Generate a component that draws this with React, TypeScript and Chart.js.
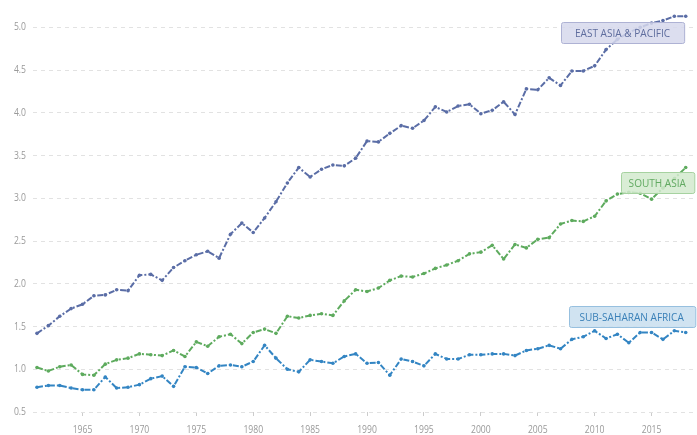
import React, { useEffect, useRef } from "react";
import { Chart, registerables } from "chart.js";

Chart.register(...registerables);

const years = [
  1961, 1962, 1963, 1964, 1965, 1966, 1967, 1968, 1969, 1970,
  1971, 1972, 1973, 1974, 1975, 1976, 1977, 1978, 1979, 1980,
  1981, 1982, 1983, 1984, 1985, 1986, 1987, 1988, 1989, 1990,
  1991, 1992, 1993, 1994, 1995, 1996, 1997, 1998, 1999, 2000,
  2001, 2002, 2003, 2004, 2005, 2006, 2007, 2008, 2009, 2010,
  2011, 2012, 2013, 2014, 2015, 2016, 2017, 2018,
];

const eastAsiaPacific = [
  1.42, 1.51, 1.62, 1.71, 1.76, 1.86, 1.87, 1.93, 1.92, 2.10,
  2.11, 2.04, 2.19, 2.27, 2.34, 2.38, 2.30, 2.58, 2.71, 2.60,
  2.77, 2.96, 3.18, 3.36, 3.25, 3.34, 3.39, 3.38, 3.47, 3.67,
  3.66, 3.76, 3.85, 3.82, 3.91, 4.07, 4.01, 4.08, 4.10, 3.99,
  4.03, 4.13, 3.98, 4.28, 4.27, 4.41, 4.32, 4.49, 4.49, 4.55,
  4.74, 4.86, 4.94, 5.00, 5.05, 5.08, 5.13, 5.13,
];

const southAsia = [
  1.02, 0.98, 1.03, 1.05, 0.94, 0.93, 1.06, 1.11, 1.13, 1.18,
  1.17, 1.16, 1.22, 1.15, 1.32, 1.27, 1.38, 1.41, 1.30, 1.43,
  1.47, 1.42, 1.62, 1.60, 1.63, 1.65, 1.63, 1.80, 1.93, 1.91,
  1.95, 2.04, 2.09, 2.08, 2.12, 2.18, 2.22, 2.27, 2.35, 2.37,
  2.45, 2.29, 2.46, 2.42, 2.52, 2.54, 2.70, 2.74, 2.73, 2.79,
  2.97, 3.05, 3.07, 3.06, 2.99, 3.12, 3.23, 3.36,
];

const subSaharanAfrica = [
  0.79, 0.81, 0.81, 0.78, 0.76, 0.76, 0.91, 0.78, 0.79, 0.82,
  0.89, 0.92, 0.80, 1.03, 1.02, 0.95, 1.04, 1.05, 1.03, 1.09,
  1.28, 1.13, 1.00, 0.97, 1.11, 1.09, 1.07, 1.15, 1.18, 1.07,
  1.08, 0.93, 1.12, 1.09, 1.04, 1.18, 1.12, 1.12, 1.17, 1.17,
  1.18, 1.18, 1.16, 1.22, 1.24, 1.28, 1.24, 1.35, 1.38, 1.45,
  1.36, 1.41, 1.31, 1.43, 1.43, 1.35, 1.45, 1.43,
];

const seriesNames = ["EAST ASIA & PACIFIC", "SOUTH ASIA", "SUB-SAHARAN AFRICA"];
const xTickYears = [1965, 1970, 1975, 1980, 1985, 1990, 1995, 2000, 2005, 2010, 2015];
const yTickValues = [0.5, 1.0, 1.5, 2.0, 2.5, 3.0, 3.5, 4.0, 4.5, 5.0];

const FONT = "'Open Sans', sans-serif";
const CONDENSE = 0.82;

const lineColors = ["#5a6da6", "#5eab5e", "#3385c3"];
const labelStyles = [
  { fill: "rgba(214,216,236,0.85)", border: "#aeb2d4", text: "#5f6d9e", year: 2012.45, value: 4.94, pad: 14 },
  { fill: "rgba(210,234,206,0.85)", border: "#a6d2a0", text: "#62aa62", year: 2015.5, value: 3.18, pad: 8 },
  { fill: "rgba(203,224,240,0.9)", border: "#97c0df", text: "#3a80b8", year: 2013.25, value: 1.62, pad: 11 },
];

function condensedText(ctx: any, text: string, x: number, y: number, sx: number) {
  ctx.save();
  ctx.translate(x, y);
  ctx.scale(sx, 1);
  ctx.fillText(text, 0, 0);
  ctx.restore();
}

const tickLabelPlugin = {
  id: "tickLabels",
  afterDraw(chart: any) {
    const { ctx, scales } = chart;
    ctx.save();
    ctx.font = `10.5px ${FONT}`;
    ctx.fillStyle = "#9a9a9a";
    ctx.textBaseline = "middle";
    ctx.textAlign = "right";
    yTickValues.forEach((v) => {
      const y = scales.y.getPixelForValue(v);
      condensedText(ctx, v.toFixed(1), 26, y, CONDENSE);
    });
    ctx.textAlign = "center";
    xTickYears.forEach((yr) => {
      const x = scales.x.getPixelForValue(yr);
      condensedText(ctx, String(yr), x, scales.x.top + 18, CONDENSE);
    });
    ctx.restore();
  },
};

const labelPlugin = {
  id: "seriesLabels",
  afterDatasetsDraw(chart: any) {
    const { ctx, scales } = chart;
    ctx.save();
    ctx.font = `11.5px ${FONT}`;
    ctx.textAlign = "center";
    ctx.textBaseline = "middle";
    seriesNames.forEach((name, i) => {
      const st = labelStyles[i];
      const cx = scales.x.getPixelForValue(st.year);
      const cy = scales.y.getPixelForValue(st.value);
      const tw = ctx.measureText(name).width * 0.875;
      const w = tw + st.pad * 2;
      const h = 21;
      const x0 = Math.round(cx - w / 2);
      const y0 = Math.round(cy - h / 2);
      ctx.beginPath();
      if ((ctx as any).roundRect) (ctx as any).roundRect(x0 + 0.5, y0 + 0.5, w, h, 2);
      else ctx.rect(x0 + 0.5, y0 + 0.5, w, h);
      ctx.fillStyle = st.fill;
      ctx.fill();
      ctx.strokeStyle = st.border;
      ctx.lineWidth = 1;
      ctx.stroke();
      ctx.fillStyle = st.text;
      condensedText(ctx, name, cx, cy + 1, 0.875);
    });
    ctx.restore();
  },
};

export default function App() {
  const ref = useRef<HTMLCanvasElement | null>(null);

  useEffect(() => {
    document.body.style.margin = "0";
    const canvas = ref.current;
    if (!canvas) return;
    const seriesData = [eastAsiaPacific, southAsia, subSaharanAfrica];
    const chart = new Chart(canvas, {
      type: "line",
      data: {
        datasets: seriesData.map((vals, i) => ({
          label: seriesNames[i],
          data: vals.map((v, j) => ({ x: years[j], y: v })),
          borderColor: lineColors[i],
          backgroundColor: lineColors[i],
          borderWidth: 2,
          borderDash: [6, 2, 2, 2],
          pointRadius: 1.8,
          pointBorderWidth: 0,
          pointBackgroundColor: lineColors[i],
          tension: 0,
          fill: false,
        })),
      },
      options: {
        animation: false,
        responsive: false,
        devicePixelRatio: 1,
        layout: { padding: { top: 6, right: 0, bottom: 0, left: 0 } },
        plugins: {
          legend: { display: false },
          tooltip: { enabled: false },
        },
        scales: {
          x: {
            type: "linear",
            min: 1960.65,
            max: 2018.64,
            afterBuildTicks: (scale: any) => {
              scale.ticks = xTickYears.map((v) => ({ value: v }));
            },
            afterFit: (scale: any) => {
              scale.height = 23;
            },
            grid: {
              display: true,
              drawOnChartArea: false,
              drawTicks: true,
              tickLength: 4,
              color: "#cccccc",
            },
            border: { display: false },
            ticks: { display: false },
          },
          y: {
            type: "linear",
            min: 0.5,
            max: 5.25,
            afterBuildTicks: (scale: any) => {
              scale.ticks = yTickValues.map((v) => ({ value: v }));
            },
            afterFit: (scale: any) => {
              scale.width = 33;
            },
            grid: {
              display: true,
              drawTicks: false,
              color: "#e2e2e2",
              lineWidth: 1,
            },
            border: { display: false, dash: [4, 4] },
            ticks: { display: false },
          },
        },
      },
      plugins: [labelPlugin, tickLabelPlugin],
    });
    return () => chart.destroy();
  }, []);

  return (
    <div style={{ width: 697, height: 435, background: "#fff" }}>
      <canvas ref={ref} width={697} height={435} style={{ display: "block" }} />
    </div>
  );
}
